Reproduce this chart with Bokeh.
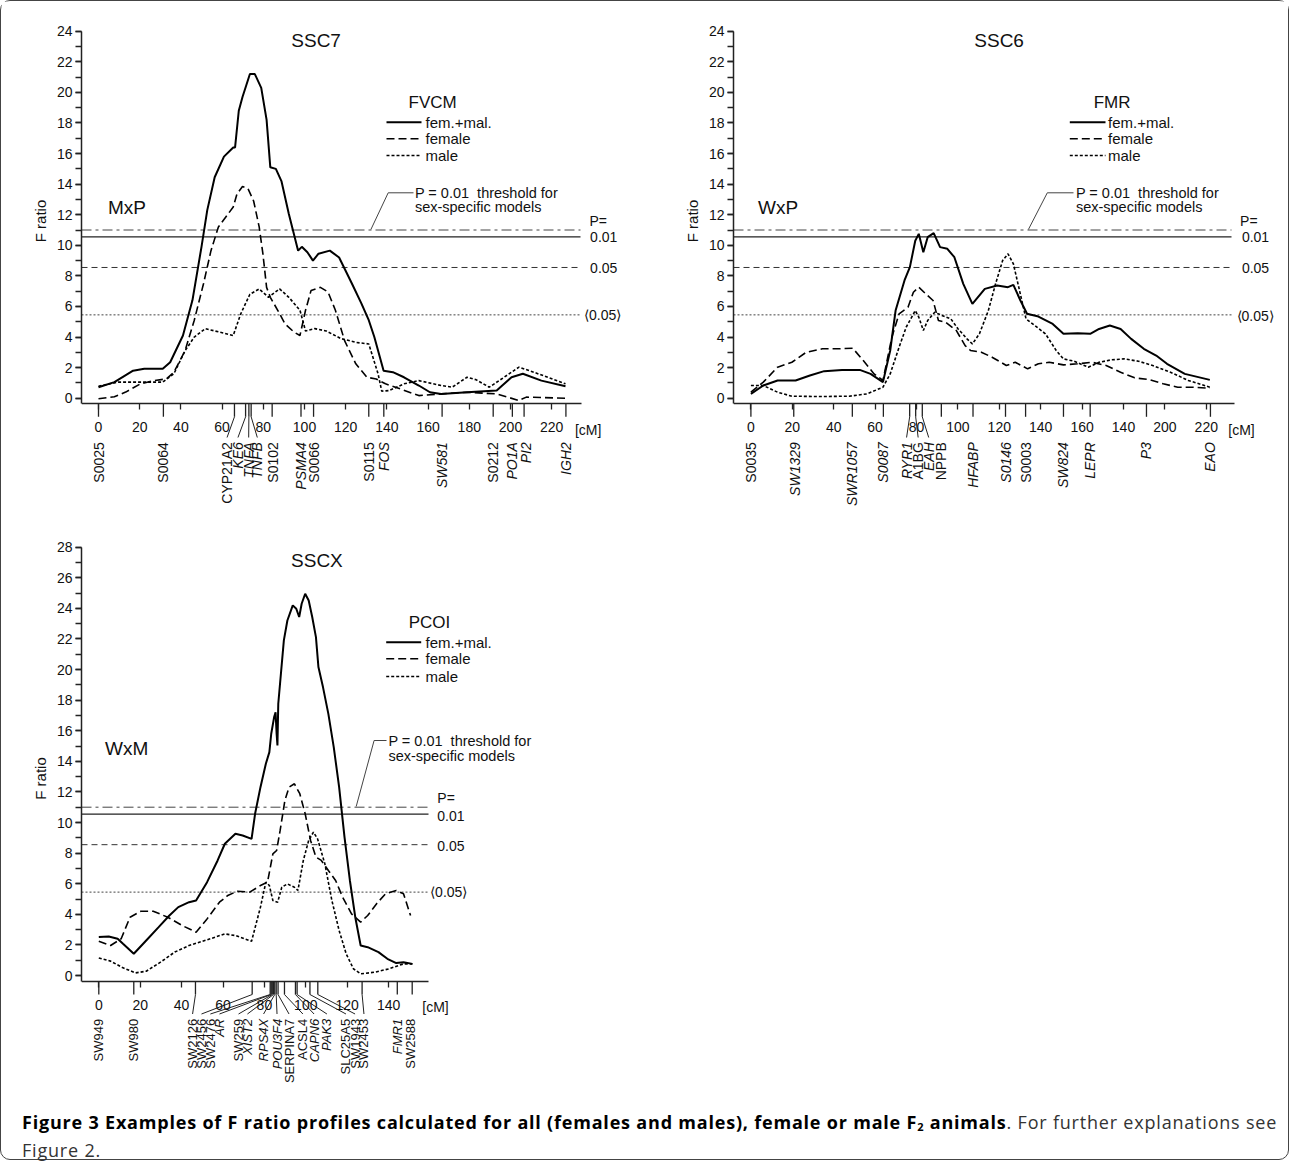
import math
from bokeh.plotting import figure
from bokeh.models import Range1d, FixedTicker, ColumnDataSource, Div
from bokeh.layouts import column, row
from bokeh.core.properties import value
from bokeh.embed import file_html
from bokeh.resources import INLINE

FONT = "Liberation Sans"

# ============================ DATA ============================
THR_SEX_001 = 11.0   # P = 0.01 threshold for sex-specific models
THR_001 = 10.55      # P = 0.01
THR_005 = 8.55       # P = 0.05
THR_SUGG = 5.45      # <0.05>
P_TEXTS = ["P=", "0.01", "0.05", "\u27e80.05\u27e9"]
LEGEND_TEXTS = ["fem.+mal.", "female", "male"]
NOTE_TEXTS = ["P = 0.01\u00a0 threshold for", "sex-specific models"]

# ---------- SSC7 / MxP / FVCM ----------
SSC7_TITLE, SSC7_CROSS, SSC7_TRAIT = "SSC7", "MxP", "FVCM"
SSC7_YTICKS = list(range(0, 25, 2))
SSC7_YMINOR = list(range(0, 25))
SSC7_XTICKS = list(range(0, 221, 20))
SSC7_XLABELS = ["0", "20", "40", "60", "80", "100", "120", "140", "160", "180", "200", "220"]
SSC7_FM_CM = [0, 7.7, 16.8, 22.2, 31.2, 34.8, 41, 45.6, 50, 52.8, 56.4, 60.9, 65.4, 66.3, 68.1, 69.9,
              71.7, 73.5, 75.9, 79, 81.6, 83.4, 86.1, 88.8, 92.4, 96.9, 98.7, 101.4, 104.1, 106.8,
              112.3, 116.8, 123, 127.6, 131.2, 133.9, 138.4, 142.9, 148.3, 155.5, 160.9, 166.3,
              178.9, 193.3, 196, 200.5, 206, 215, 226.7]
SSC7_FM_F = [0.72, 1.05, 1.8, 1.92, 1.92, 2.35, 4.1, 6.4, 9.9, 12.3, 14.45, 15.8, 16.4, 16.4, 18.8, 19.7,
             20.45, 21.2, 21.2, 20.3, 18.2, 15.1, 15.0, 14.2, 12.05, 9.65, 9.9, 9.55, 9.0, 9.45,
             9.65, 9.2, 7.5, 6.2, 5.1, 4.0, 1.8, 1.7, 1.37, 0.83, 0.39, 0.28,
             0.39, 0.5, 0.83, 1.37, 1.6, 1.15, 0.78]
SSC7_FE_CM = [0, 7.7, 13.2, 20.4, 26.7, 33, 36.6, 42, 46.5, 51, 54.6, 58.2, 61.8, 65.4, 67.2, 69.9,
              72.6, 75.3, 78, 79.8, 81.6, 83.4, 87, 90.6, 95.1, 97.8, 100.5, 103.2, 107.7, 111.4,
              115, 119.5, 124.9, 130.3, 134.8, 139.3, 146.5, 155.5, 166.3, 178.9, 193.3, 204.1,
              207.7, 226.7]
SSC7_FE_F = [-0.04, 0.1, 0.4, 0.94, 1.15, 1.26, 1.7, 3.1, 5.1, 7.5, 9.65, 11.2, 11.85, 12.5, 13.35, 13.85,
             13.7, 12.9, 11.2, 9.45, 7.25, 6.6, 5.75, 4.85, 4.3, 4.1, 5.75, 7.05, 7.25, 6.95,
             5.75, 3.75, 2.25, 1.37, 1.26, 0.94, 0.61, 0.17, 0.28, 0.39, 0.28, -0.15,
             0.07, 0.0]
SSC7_MA_CM = [0, 9.5, 22.2, 31.2, 36.6, 42, 46.5, 51.9, 56.4, 65.4, 69, 73.5, 78, 82.5, 87.9, 92.4,
              97.8, 100.5, 105, 110.5, 117.7, 124.9, 131.2, 135.7, 137.5, 141.1, 148.3, 155.5,
              166.3, 171.7, 178.9, 183.4, 189.7, 196.9, 204.1, 211.3, 226.7]
SSC7_MA_F = [0.78, 1.05, 1.05, 1.05, 1.6, 3.1, 4.0, 4.55, 4.4, 4.1, 5.5, 6.8, 7.15, 6.6, 7.15, 6.6,
             5.75, 4.4, 4.55, 4.4, 3.9, 3.65, 3.55, 1.6, 0.46, 0.5, 0.94, 1.15,
             0.83, 0.72, 1.37, 1.2, 0.72, 1.37, 2.03, 1.7, 0.94]
SSC7_MARKERS = ["S0025", "S0064", "CYP21A2", "KE6", "TNFA", "TNFB", "S0102", "PSMA4", "S0066",
                "S0115", "FOS", "SW581", "S0212", "PO1A", "PI2", "IGH2"]
SSC7_MARKER_CM = [0, 31.5, 66.0, 71.4, 73.0, 74.1, 84.3, 98.3, 104.4, 131.2, 138.5, 166.8,
                  191.6, 200.9, 206.6, 226.9]

# ---------- SSC6 / WxP / FMR ----------
SSC6_TITLE, SSC6_CROSS, SSC6_TRAIT = "SSC6", "WxP", "FMR"
SSC6_YTICKS = list(range(0, 25, 2))
SSC6_YMINOR = list(range(0, 25))
SSC6_XTICKS = list(range(0, 221, 20))
SSC6_XLABELS = ["0", "20", "40", "60", "80", "100", "120", "140", "160", "140", "200", "220"]
SSC6_FM_CM = [0, 6, 12.9, 21.6, 28.5, 35.4, 44, 52.6, 57.8, 63.8, 67.3, 69.9, 74.2, 76.8, 79.4, 81.1,
              83.3, 85.4, 88.3, 91.4, 94.9, 98.3, 102.6, 107, 113, 119, 124.2, 126.8, 130.2, 133.4,
              138.9, 145.8, 151, 157.9, 163.9, 168.2, 173.4, 178.6, 183.7, 189.8, 195.8, 201,
              209.6, 221.7]
SSC6_FM_F = [0.28, 0.83, 1.16, 1.16, 1.48, 1.77, 1.85, 1.85, 1.59, 1.05, 3.12, 5.73, 7.7, 8.57, 10.3, 10.75,
             9.55, 10.53, 10.8, 9.88, 9.77, 9.22, 7.48, 6.17, 7.15, 7.37, 7.26, 7.41, 6.39, 5.52,
             5.34, 4.86, 4.21, 4.25, 4.21, 4.53, 4.75, 4.53, 3.88, 3.23, 2.79, 2.25,
             1.59, 1.2]
SSC6_FE_CM = [0, 6, 12.9, 19.8, 26.7, 34.5, 42.3, 49.2, 54.3, 59.5, 63.8, 68.1, 71.6, 75.9, 78.5, 81.1,
              84.5, 88, 90.6, 94, 99.2, 103.5, 106.1, 111.3, 116.5, 123.4, 127.7, 133.7, 138.9,
              144.1, 151, 157.9, 164.8, 171.6, 178.6, 185.4, 192.3, 199.2, 206.2, 213, 221.7]
SSC6_FE_F = [0.39, 1.05, 2.03, 2.35, 3.0, 3.23, 3.23, 3.27, 2.46, 1.59, 1.16, 3.99, 5.52, 5.95, 6.93, 7.26,
             6.82, 6.39, 5.08, 4.97, 4.43, 3.44, 3.12, 3.01, 2.68, 2.14, 2.35, 1.92, 2.25,
             2.35, 2.18, 2.25, 2.35, 2.14, 1.7, 1.33, 1.22, 0.94, 0.72, 0.72, 0.65]
SSC6_MA_CM = [0, 6, 12.9, 19.8, 33.6, 47.4, 56, 63.8, 67.3, 71.6, 75, 79.4, 81.1, 83.3, 85.4, 88.8,
              92.3, 96.6, 100.1, 104.4, 107, 110.4, 114.7, 118.2, 121.6, 124.2, 126.8, 129.4, 132.9,
              137.2, 142.3, 147.5, 151, 156.1, 163, 168.2, 174.2, 180.3, 187.2, 194.1, 202.7,
              211.3, 221.7]
SSC6_MA_F = [0.83, 0.83, 0.39, 0.13, 0.11, 0.13, 0.28, 0.72, 1.59, 3.34, 4.64, 5.73, 5.3, 4.43, 5.08, 5.62,
             5.41, 5.19, 4.53, 3.88, 3.55, 4.21, 5.73, 7.48, 9.0, 9.44, 8.79, 7.26, 5.19,
             4.75, 4.21, 3.12, 2.57, 2.42, 2.03, 2.35, 2.51, 2.57, 2.42, 2.14, 1.7,
             1.16, 0.72]
SSC6_MARKERS = ["S0035", "SW1329", "SWR1057", "S0087", "RYR1", "A1BG", "EAH", "NPPB", "HFABP",
                "S0146", "S0003", "SW824", "LEPR", "P3", "EAO"]
SSC6_MARKER_CM = [0, 20.7, 49.0, 64.0, 76.7, 79.6, 82.8, 92.0, 107.3, 123.0, 132.7, 151.0,
                  163.9, 191.1, 222.0]

# ---------- SSCX / WxM / PCOI ----------
SSCX_TITLE, SSCX_CROSS, SSCX_TRAIT = "SSCX", "WxM", "PCOI"
SSCX_YTICKS = list(range(0, 29, 2))
SSCX_YMINOR = list(range(0, 29))
SSCX_XTICKS = list(range(0, 141, 20))
SSCX_XLABELS = ["0", "20", "40", "60", "80", "100", "120", "140"]
SSCX_FM_CM = [0, 4.8, 9.1, 11.7, 16.9, 22.9, 28.9, 34.1, 38.4, 43.6, 47, 52.3, 57.4, 60.9, 66, 69.5,
              73.8, 75.5, 78.1, 80.7, 82.4, 83.3, 84.7, 85.4, 85.9, 86.3, 86.7, 89.4, 91.1, 93.7,
              95.4, 96.8, 98, 99.7, 101.4, 103.1, 104.9, 106.1, 108.3, 110.9, 113.5, 116.1, 118.7,
              121.3, 123.9, 126.5, 129.9, 135.1, 139.4, 143.7, 147.2, 151.5]
SSCX_FM_F = [2.51, 2.55, 2.4, 2.07, 1.42, 2.29, 3.16, 3.92, 4.47, 4.79, 4.9, 6.1, 7.52, 8.61, 9.26, 9.15,
             8.93, 10.57, 12.31, 13.84, 14.6, 15.8, 16.89, 17.2, 15.8, 15.04, 17.76, 21.9, 23.2, 24.19,
             23.97, 23.43, 24.3, 24.95, 24.51, 23.43, 22.12, 20.16, 18.85, 17.1, 14.93, 12.31, 9.04,
             6.21, 3.81, 1.96, 1.85, 1.53, 1.09, 0.81, 0.87, 0.76]
SSCX_FE_CM = [0, 5.7, 10.8, 15.1, 20.3, 26.3, 33.3, 40.2, 47, 52.3, 58.3, 62.3, 66.9, 72.9, 78.1, 81.5,
              84.1, 85.9, 87.6, 89.9, 91.9, 94.5, 97.1, 99.7, 102.3, 104.9, 107.5, 110.9, 114.4,
              117.8, 122.1, 126.5, 129.9, 134.2, 138.5, 143.7, 147.2, 150.6]
SSCX_FE_F = [2.24, 1.96, 2.4, 3.81, 4.2, 4.2, 3.81, 3.27, 2.83, 3.7, 4.79, 5.23, 5.51, 5.45, 5.88, 6.1,
             7.95, 8.17, 9.48, 11.44, 12.31, 12.53, 11.88, 10.57, 8.83, 7.74, 7.52, 6.86, 6.21,
             5.12, 4.03, 3.49, 3.92, 4.69, 5.34, 5.56, 5.34, 3.92]
SSCX_MA_CM = [0, 5.7, 11.7, 17.7, 22.9, 29.8, 36.7, 43.6, 52.3, 60.9, 66, 73.8, 78.1, 80.7, 82.4, 84.1,
              86.4, 88.4, 91.1, 94.5, 96.2, 98.8, 101.4, 103.7, 105.7, 109.2, 112.6, 116.1, 119.5,
              123, 126.5, 133.4, 140.3, 147.2, 151.5]
SSCX_MA_F = [1.15, 0.94, 0.5, 0.17, 0.28, 0.87, 1.53, 1.96, 2.33, 2.72, 2.61, 2.24, 4.47, 6.1, 5.88, 4.9,
             4.79, 5.77, 5.99, 5.77, 5.56, 7.52, 8.83, 9.37, 8.93, 7.3, 4.9, 2.94, 1.42,
             0.44, 0.11, 0.22, 0.44, 0.76, 0.76]
SSCX_MARKERS = ["SW949", "SW980", "SW2126", "SW2456", "SW2476", "AR", "SW259", "XIST2", "RPS4X",
                "POU3F4", "SERPINA7", "ACSL4", "CAPN6", "PAK3", "SLC25A5", "SW1943", "SW2453",
                "FMR1", "SW2588"]
SSCX_MARKER_CM = [0, 16.9, 46.7, 74.1, 82.8, 83.3, 83.8, 84.4, 85.0, 85.7, 86.6, 89.7, 95.0,
                  95.8, 102.0, 105.8, 127.2, 144.2, 151.4]

# ============================ LAYOUT / STYLE ============================
SSC7_LABEL_CM = [0, 31.5, 62.4, 67.7, 72.9, 77.1, 84.7, 98.3, 104.4, 131.3, 138.5, 166.7,
                 191.7, 200.7, 207.3, 226.9]
SSC7_ITALIC = [0, 0, 0, 1, 1, 1, 0, 1, 0, 0, 1, 1, 0, 1, 1, 1]
SSC7_LEADER = [0, 0, 1, 1, 1, 1, 0, 0, 0, 0, 0, 0, 0, 0, 0, 0]
SSC6_LABEL_CM = [0, 21.5, 49.0, 64.0, 75.2, 80.8, 85.9, 91.6, 107.3, 123.0, 132.7, 151.0,
                 163.9, 191.1, 222.0]
SSC6_ITALIC = [0, 1, 1, 1, 1, 0, 1, 0, 1, 1, 0, 1, 1, 1, 1]
SSC6_LEADER = [0, 0, 0, 0, 1, 1, 1, 0, 0, 0, 0, 0, 0, 0, 0]
SSCX_LABEL_CM = [0, 16.9, 45.3, 49.6, 53.9, 58.3, 67.5, 71.8, 79.6, 86.1, 91.9, 98.6, 104.0,
                 110.2, 119.4, 123.8, 128.1, 144.2, 150.6]
SSCX_ITALIC = [0, 0, 0, 0, 0, 1, 0, 1, 1, 1, 0, 0, 1, 1, 0, 0, 0, 1, 0]
SSCX_LEADER = [0, 0, 1, 1, 1, 1, 1, 1, 1, 1, 1, 1, 1, 1, 1, 1, 1, 0, 0]

# geometry in page pixels (x0/y0 = pixel of 0 cM / F=0, sx/sy = px per unit)
# fl/fr = frame left/right, ft = top, fm = split between plot and marker-name strip, fb = bottom
G7 = dict(x0=98.0, sx=2.06, y0=397.7, sy=15.29, fl=81, fr=630, ft=1, fm=440, fb=540, mbl=80,
          axis_y=403.3, axis_end=580.7, label_top=441.7, leader_end=437.0, lab_size="14px",
          cm_lab=(587.7, 429.0), title=(315.6, 40.0), cross=(107.4, 207.3), trait=(408.0, 101.7),
          leg_x=(386.0, 421.0), leg_tx=425.0, leg_y=(121.7, 138.3, 155.0),
          note_x=414.4, note_y=(192.7, 206.7), note_lead=[(413.0, 192.3), (387.7, 192.3), (370.4, 229.0)],
          thr_end=580.0, p_x=(588.9, 589.6, 589.6, 583.5), p_y=(220.0, 236.7, 267.3, 314.0))
G6 = dict(x0=750.4, sx=2.07, y0=397.7, sy=15.29, fl=733, fr=1288, ft=1, fm=440, fb=540, mbl=103,
          axis_y=403.3, axis_end=1234.3, label_top=441.7, leader_end=437.0, lab_size="14px",
          cm_lab=(1241.0, 429.0), title=(998.6, 40.0), cross=(757.5, 207.3), trait=(1093.2, 101.7),
          leg_x=(1069.3, 1105.0), leg_tx=1107.5, leg_y=(121.7, 138.3, 155.0),
          note_x=1075.4, note_y=(192.7, 206.7), note_lead=[(1073.0, 192.3), (1046.8, 192.3), (1027.9, 229.0)],
          thr_end=1231.0, p_x=(1239.6, 1241.4, 1241.4, 1236.0), p_y=(220.0, 236.7, 267.3, 315.0))
GX = dict(x0=98.3, sx=2.07, y0=975.0, sy=15.3, fl=81, fr=620, ft=540, fm=1016, fb=1110, mbl=80,
          axis_y=981.0, axis_end=428.3, label_top=1018.3, leader_end=1013.5, lab_size="13px",
          cm_lab=(435.0, 1006.5), title=(316.4, 560.0), cross=(104.6, 748.3), trait=(408.2, 621.7),
          leg_x=(385.7, 420.7), leg_tx=425.0, leg_y=(641.7, 658.3, 676.0),
          note_x=387.9, note_y=(740.0, 755.0), note_lead=[(386.0, 740.0), (373.6, 740.0), (355.7, 806.0)],
          thr_end=428.0, p_x=(436.8, 436.8, 436.8, 429.6), p_y=(797.3, 815.0, 845.0, 891.7))

CURVE_STYLES = [dict(line_width=2.0), dict(line_width=1.6, line_dash="8 4"),
                dict(line_width=1.6, line_dash="3 2")]


def put_text(p, xs, ys, texts, size, align="left", style="normal", color="#111", angle=0.0):
    p.text(x=xs, y=ys, text=texts, angle=angle,
           text_font=value(FONT), text_font_size=value(size),
           text_font_style=value(style), text_align=value(align),
           text_baseline=value("middle"), text_color=value(color))


def new_fig(G, y_lo_px, y_hi_px, with_axes):
    cmx = lambda px: (px - G["x0"]) / G["sx"]
    fy = lambda py: (G["y0"] - py) / G["sy"]
    kw = {} if with_axes else dict(x_axis_location=None, y_axis_location=None)
    p = figure(x_range=Range1d(cmx(G["fl"]), cmx(G["fr"])),
               y_range=Range1d(fy(y_lo_px), fy(y_hi_px)),
               frame_width=G["fr"] - G["fl"], frame_height=y_lo_px - y_hi_px,
               min_border_left=G["mbl"], min_border_right=0, min_border_top=0,
               min_border_bottom=0, output_backend="svg", toolbar_location=None, **kw)
    p.outline_line_color = None
    for g in p.grid:
        g.visible = False
    p.background_fill_color = "white"
    p.border_fill_color = "white"
    return p


def build_panel(G, D):
    cmx = lambda px: (px - G["x0"]) / G["sx"]
    fy = lambda py: (G["y0"] - py) / G["sy"]
    p = new_fig(G, G["fm"], G["ft"], True)
    axis_f = fy(G["axis_y"])

    ya = p.yaxis[0]
    ya.ticker = FixedTicker(ticks=D["yticks"], minor_ticks=D["yminor"])
    ya.bounds = (axis_f, D["yticks"][-1])
    ya.axis_label = "F ratio"
    ya.axis_label_text_font = FONT
    ya.axis_label_text_font_size = "15px"
    ya.axis_label_text_font_style = "normal"
    ya.axis_label_text_color = "#111"
    ya.axis_label_standoff = 5
    ya.major_tick_in = 0
    ya.major_tick_out = 6
    ya.minor_tick_in = 0
    ya.minor_tick_out = 6
    ya.major_label_standoff = 3

    xa = p.xaxis[0]
    xa.ticker = FixedTicker(ticks=D["xticks"], minor_ticks=[])
    xa.fixed_location = axis_f
    xa.bounds = (cmx(G["fl"]), cmx(G["axis_end"]))
    xa.major_label_overrides = dict(zip(D["xticks"], D["xlabels"]))
    xa.major_tick_in = 0
    xa.major_tick_out = 6
    xa.minor_tick_out = 0
    xa.major_label_standoff = 12

    for ax in (xa, ya):
        ax.axis_line_color = "#222"
        ax.axis_line_width = 1.5
        ax.major_tick_line_color = "#222"
        ax.major_tick_line_width = 1.3
        ax.minor_tick_line_color = "#222"
        ax.minor_tick_line_width = 1.3
        ax.major_label_text_font = FONT
        ax.major_label_text_font_size = "14px"
        ax.major_label_text_color = "#111"

    # threshold lines
    xl, xe = cmx(G["fl"]), cmx(G["thr_end"])
    p.line([xl, xe], [THR_SEX_001] * 2, line_color="#444", line_width=1, line_dash="10 4 3 4")
    p.line([xl, xe], [THR_001] * 2, line_color="#222", line_width=1.1)
    p.line([xl, xe], [THR_005] * 2, line_color="#333", line_width=1, line_dash="6 4")
    p.line([xl, xe], [THR_SUGG] * 2, line_color="#444", line_width=1, line_dash="2 2")

    # curves
    for (xs, ys), st in zip(D["curves"], CURVE_STYLES):
        p.line(xs, ys, line_color="black", **st)

    # marker ticks and leaders
    n = len(D["markers"])
    tb = fy(G["axis_y"] + 13)
    p.segment(x0=D["marker_cm"], y0=[axis_f] * n, x1=D["marker_cm"], y1=[tb] * n,
              line_color="#222", line_width=1.3)
    lx0 = [c for c, f in zip(D["marker_cm"], D["leader"]) if f]
    lx1 = [c for c, f in zip(D["label_cm"], D["leader"]) if f]
    if lx0:
        p.segment(x0=lx0, y0=[tb] * len(lx0), x1=lx1, y1=[fy(G["leader_end"])] * len(lx0),
                  line_color="#222", line_width=1.0)

    # [cM], titles, legend, note, P labels
    put_text(p, [cmx(G["cm_lab"][0])], [fy(G["cm_lab"][1])], ["[cM]"], "14px", align="center")
    put_text(p, [cmx(G["title"][0])], [fy(G["title"][1])], [D["title"]], "19px", align="center")
    put_text(p, [cmx(G["cross"][0])], [fy(G["cross"][1])], [D["cross"]], "19px")
    put_text(p, [cmx(G["trait"][0])], [fy(G["trait"][1])], [D["trait"]], "17px")
    for yy, st in zip(G["leg_y"], CURVE_STYLES):
        p.line([cmx(G["leg_x"][0]), cmx(G["leg_x"][1])], [fy(yy)] * 2, line_color="black", **st)
    put_text(p, [cmx(G["leg_tx"])] * 3, [fy(v) for v in G["leg_y"]], LEGEND_TEXTS, "15px")
    put_text(p, [cmx(G["note_x"])] * 2, [fy(v) for v in G["note_y"]], NOTE_TEXTS, "14.5px")
    p.line([cmx(a) for a, b in G["note_lead"]], [fy(b) for a, b in G["note_lead"]],
           line_color="#444", line_width=1)
    put_text(p, [cmx(v) for v in G["p_x"]], [fy(v) for v in G["p_y"]], P_TEXTS, "14px")

    # strip with rotated marker names
    pb = new_fig(G, G["fb"], G["fm"], False)
    src = ColumnDataSource(dict(x=D["label_cm"], y=[fy(G["label_top"])] * n, t=D["markers"],
                                s=["italic" if i else "normal" for i in D["italic"]]))
    pb.text(x="x", y="y", text="t", source=src, angle=math.pi / 2,
            text_align=value("right"), text_baseline=value("middle"),
            text_font=value(FONT), text_font_size=value(G["lab_size"]),
            text_font_style="s", text_color=value("#111"))
    return column(p, pb, spacing=0)


def pack(title, cross, trait, yt, ym, xt, xl, fm, fe, ma, mk, mkc, lc, it, ld):
    return dict(title=title, cross=cross, trait=trait, yticks=yt, yminor=ym, xticks=xt, xlabels=xl,
                curves=[fm, fe, ma], markers=mk, marker_cm=mkc, label_cm=lc, italic=it, leader=ld)


D7 = pack(SSC7_TITLE, SSC7_CROSS, SSC7_TRAIT, SSC7_YTICKS, SSC7_YMINOR, SSC7_XTICKS, SSC7_XLABELS,
          (SSC7_FM_CM, SSC7_FM_F), (SSC7_FE_CM, SSC7_FE_F), (SSC7_MA_CM, SSC7_MA_F),
          SSC7_MARKERS, SSC7_MARKER_CM, SSC7_LABEL_CM, SSC7_ITALIC, SSC7_LEADER)
D6 = pack(SSC6_TITLE, SSC6_CROSS, SSC6_TRAIT, SSC6_YTICKS, SSC6_YMINOR, SSC6_XTICKS, SSC6_XLABELS,
          (SSC6_FM_CM, SSC6_FM_F), (SSC6_FE_CM, SSC6_FE_F), (SSC6_MA_CM, SSC6_MA_F),
          SSC6_MARKERS, SSC6_MARKER_CM, SSC6_LABEL_CM, SSC6_ITALIC, SSC6_LEADER)
DX = pack(SSCX_TITLE, SSCX_CROSS, SSCX_TRAIT, SSCX_YTICKS, SSCX_YMINOR, SSCX_XTICKS, SSCX_XLABELS,
          (SSCX_FM_CM, SSCX_FM_F), (SSCX_FE_CM, SSCX_FE_F), (SSCX_MA_CM, SSCX_MA_F),
          SSCX_MARKERS, SSCX_MARKER_CM, SSCX_LABEL_CM, SSCX_ITALIC, SSCX_LEADER)

c7 = build_panel(G7, D7)
c6 = build_panel(G6, D6)
cx = build_panel(GX, DX)

caption_html = (
    '<div style="font-family:\'Open Sans\',sans-serif;font-size:18px;line-height:24.5px;'
    'letter-spacing:0.8px;padding:0 0 0 21px;margin:0;white-space:nowrap;color:#333;">'
    '<b style="color:#000;">Figure 3 Examples of F ratio profiles calculated for all (females and males), '
    'female or male F<span style="font-size:11px;position:relative;top:2px;">2</span> animals</b>. '
    'For further explanations see<br>Figure 2.</div>'
)
cap = Div(text=caption_html, width=1287, height=49, margin=0)

layout = column(row(c7, c6, spacing=0), cx, cap, spacing=0,
                styles={"border": "1px solid #444", "border-radius": "10px"})

open("out.html", "w").write(file_html(layout, INLINE))
